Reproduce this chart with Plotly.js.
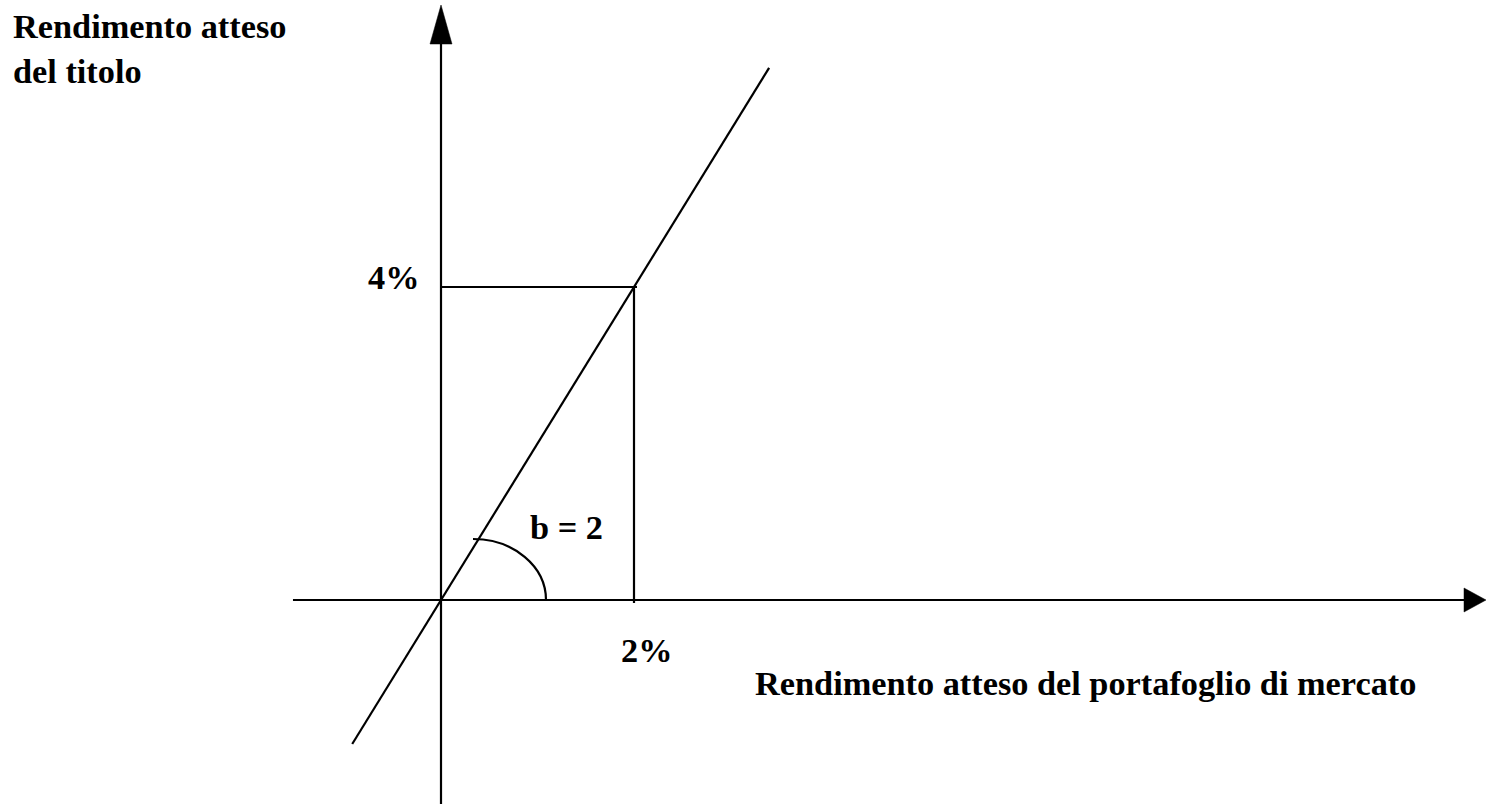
<!DOCTYPE html>
<html><head><meta charset="utf-8">
<script src="https://cdn.plot.ly/plotly-3.0.1.min.js"></script>
<style>html,body{margin:0;padding:0;background:#fff;overflow:hidden}</style>
</head><body>
<div id="chart" style="width:1486px;height:804px"></div>
<script>
// ---- values ----
const betaText = 'b = 2';
const marketReturn = [2];          // % (x of the guide point)
const stockReturn = [4];           // % (y of the guide point)
const xTickText = ['2%'];
const yTickText = ['4%'];
const securityLineX = [-0.92, 3.40];
const securityLineY = [-1.84, 6.80];
const xAxisExtent = [-1.534, 10.829];   // left end, arrow tip
const yAxisExtent = [-2.607, 7.604];    // bottom end, arrow tip
const xTitle = 'Rendimento atteso del portafoglio di mercato';
const yTitle = 'Rendimento atteso<br>del titolo';

// ---- layout / styling ----
const W = 1486, H = 804;
const xRange = [-4.570, 10.829];
const yRange = [-2.607, 7.668];
const sx = W / (xRange[1] - xRange[0]);   // px per unit
const sy = H / (yRange[1] - yRange[0]);
const ink = '#000';
const lw = 2.2;
const FONT = {family: 'Liberation Serif, Times New Roman, serif', size: 34.3, color: ink, weight: 'bold'};

const px2x = p => p / sx;   // pixel length -> data length
const py2y = p => p / sy;

const gx = marketReturn[0], gy = stockReturn[0];

const traces = [
  {x: securityLineX, y: securityLineY, mode: 'lines', line: {color: ink, width: lw}, hoverinfo: 'skip'},
  {x: [0, gx + px2x(3)], y: [gy, gy], mode: 'lines', line: {color: ink, width: lw}, hoverinfo: 'skip'},
  {x: [gx, gx], y: [gy, -py2y(3)], mode: 'lines', line: {color: ink, width: lw}, hoverinfo: 'skip'}
];

// axes with arrowheads
const xArrowLen = px2x(22), xArrowHalf = py2y(12);
const yArrowLen = py2y(39), yArrowHalf = px2x(11);
// angle arc (quarter ellipse, bezier)
const cx = px2x(32), rx = px2x(73), ry = py2y(61), k = 0.5523;

const shapes = [
  {type: 'line', xref: 'x', yref: 'y', x0: xAxisExtent[0], y0: 0, x1: xAxisExtent[1] - xArrowLen, y1: 0, line: {color: ink, width: lw}},
  {type: 'path', xref: 'x', yref: 'y',
   path: `M ${xAxisExtent[1]} 0 L ${xAxisExtent[1] - xArrowLen} ${xArrowHalf} L ${xAxisExtent[1] - xArrowLen} ${-xArrowHalf} Z`,
   fillcolor: ink, line: {color: ink, width: 0.5}},
  {type: 'line', xref: 'x', yref: 'y', x0: 0, y0: yAxisExtent[0], x1: 0, y1: yAxisExtent[1] - yArrowLen, line: {color: ink, width: lw}},
  {type: 'path', xref: 'x', yref: 'y',
   path: `M 0 ${yAxisExtent[1]} L ${-yArrowHalf} ${yAxisExtent[1] - yArrowLen} L ${yArrowHalf} ${yAxisExtent[1] - yArrowLen} Z`,
   fillcolor: ink, line: {color: ink, width: 0.5}},
  {type: 'path', xref: 'x', yref: 'y',
   path: `M ${cx} ${ry} C ${cx + k*rx} ${ry} ${cx + rx} ${k*ry} ${cx + rx} 0`,
   line: {color: ink, width: lw}}
];

const annotations = [
  {xref: 'paper', yref: 'paper', x: 11/W, y: 1 - 5/H, xanchor: 'left', yanchor: 'top', align: 'left',
   text: yTitle, showarrow: false, font: FONT},
  {xref: 'paper', yref: 'paper', x: 753/W, y: 1 - 683/H, xanchor: 'left', yanchor: 'middle',
   text: xTitle, showarrow: false, font: FONT},
  {xref: 'x', yref: 'y', x: 0, y: gy, xanchor: 'right', yanchor: 'middle', xshift: -20, yshift: 10,
   text: yTickText[0], showarrow: false, font: FONT},
  {xref: 'x', yref: 'y', x: gx, y: 0, xanchor: 'center', yanchor: 'top', xshift: 12, yshift: -29,
   text: xTickText[0], showarrow: false, font: FONT},
  {xref: 'x', yref: 'y', x: gx, y: 0, xanchor: 'right', yanchor: 'middle', xshift: -29, yshift: 73,
   text: betaText, showarrow: false, font: FONT}
];

const layout = {
  width: W, height: H, autosize: false,
  margin: {l: 0, r: 0, t: 0, b: 0, pad: 0},
  paper_bgcolor: '#fff', plot_bgcolor: '#fff',
  showlegend: false,
  xaxis: {range: xRange, visible: false, fixedrange: true},
  yaxis: {range: yRange, visible: false, fixedrange: true},
  shapes: shapes, annotations: annotations
};

Plotly.newPlot('chart', traces, layout, {displayModeBar: false, staticPlot: true});
</script>
</body></html>
